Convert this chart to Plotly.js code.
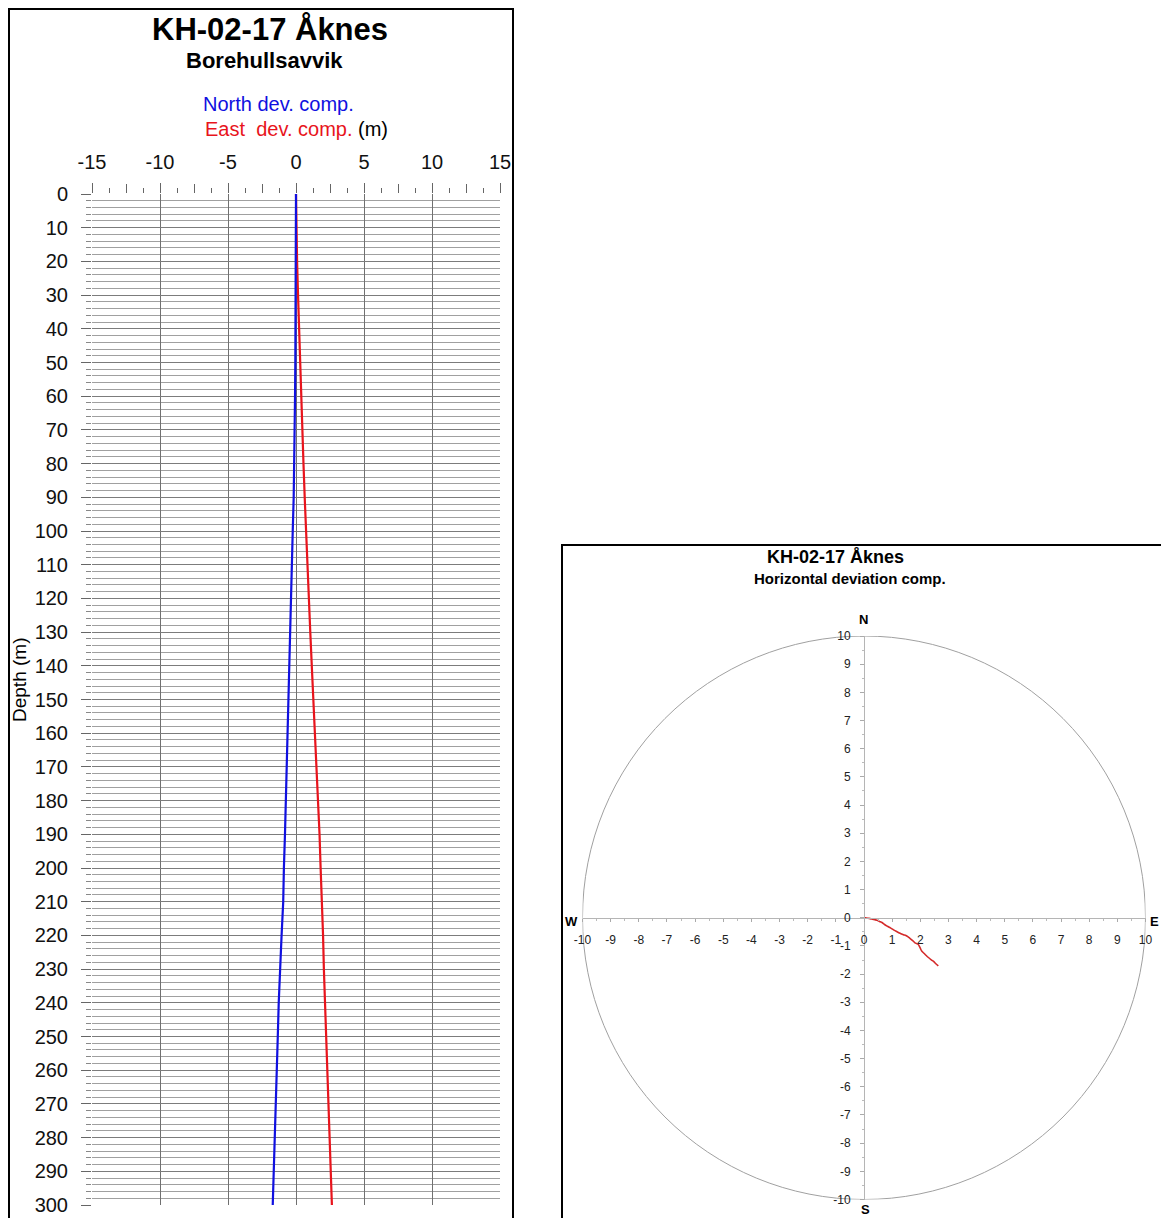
<!DOCTYPE html>
<html><head><meta charset="utf-8">
<script src="https://cdn.plot.ly/plotly-3.0.1.min.js"></script>
<style>html,body{margin:0;padding:0;background:#fff;overflow:hidden}</style>
</head><body><div id="chart" style="width:1161px;height:1218px"></div>
<script>
// ---- data ----
const depth    = [0,10,20,30,40,50,60,70,80,90,100,110,120,130,140,150,160,170,180,190,200,210,220,230,240,250,260,270,280,290,300];
const northDev = [0,0,-0.01,-0.02,-0.03,-0.05,-0.07,-0.09,-0.13,-0.17,-0.24,-0.30,-0.36,-0.43,-0.49,-0.55,-0.60,-0.65,-0.73,-0.81,-0.89,-0.94,-1.06,-1.18,-1.27,-1.34,-1.42,-1.50,-1.56,-1.64,-1.71];
const eastDev  = [0,0.02,0.08,0.15,0.22,0.30,0.38,0.46,0.55,0.64,0.73,0.83,0.94,1.05,1.16,1.28,1.40,1.52,1.63,1.73,1.81,1.92,1.99,2.05,2.14,2.21,2.30,2.40,2.48,2.56,2.64];
const depthTicks = [0,10,20,30,40,50,60,70,80,90,100,110,120,130,140,150,160,170,180,190,200,210,220,230,240,250,260,270,280,290,300];
const devTicks   = [-15,-10,-5,0,5,10,15];
const planTicks  = [-10,-9,-8,-7,-6,-5,-4,-3,-2,-1,0,1,2,3,4,5,6,7,8,9,10];

// ---- geometry helpers (pixels -> paper) ----
const W = 1161, H = 1218;
const fx = x => x / W;
const fy = y => 1 - y / H;
const FONT = 'Arial, "Liberation Sans", sans-serif';
const lbl = arr => arr.map(v => String(v));   // plain hyphen-minus labels

const traces = [
  {x: eastDev,  y: depth, xaxis: 'x', yaxis: 'y', mode: 'lines', line: {color: '#e8141c', width: 2.2}, hoverinfo: 'skip'},
  {x: northDev, y: depth, xaxis: 'x', yaxis: 'y', mode: 'lines', line: {color: '#1010e0', width: 2.2}, hoverinfo: 'skip'},
  {x: [], y: [], xaxis: 'x3', yaxis: 'y', mode: 'lines', hoverinfo: 'skip'},
  {x: eastDev, y: northDev, xaxis: 'x2', yaxis: 'y2', mode: 'lines', line: {color: '#d42a2a', width: 1.6, shape: 'spline'}, hoverinfo: 'skip'}
];

function ann(text, x, y, size, opts) {
  return Object.assign({text: text, x: fx(x), y: fy(y), xref: 'paper', yref: 'paper',
    xanchor: 'center', yanchor: 'middle', showarrow: false,
    font: {family: FONT, size: size, color: '#000'}}, opts || {});
}

const layout = {
  width: W, height: H,
  margin: {l: 0, r: 0, t: 0, b: 0},
  paper_bgcolor: '#fff', plot_bgcolor: '#fff',
  showlegend: false,
  font: {family: FONT, color: '#000'},
  xaxis: {
    domain: [fx(92), fx(500)], range: [-15, 15], side: 'top', anchor: 'y',
    tickvals: devTicks, ticktext: lbl(devTicks), ticks: 'outside', ticklen: 10, tickcolor: '#666', tickwidth: 1,
    tickfont: {size: 20, family: FONT, color: '#111'}, ticklabelstandoff: 6, ticklabeloverflow: 'allow',
    showgrid: true, gridcolor: '#707070', gridwidth: 1, zeroline: false, showline: false,
    minor: {dtick: 1.25, ticks: 'outside', ticklen: 5, tickcolor: '#666', showgrid: false},
    fixedrange: true
  },
  xaxis3: {
    overlaying: 'x', anchor: 'y', side: 'top', range: [-15, 15], dtick: 2.5,
    ticks: 'outside', ticklen: 9, tickcolor: '#666', showticklabels: false,
    showgrid: false, zeroline: false, showline: false, fixedrange: true
  },
  yaxis: {
    domain: [fy(1205), fy(194)], range: [300, 0], anchor: 'x',
    tickvals: depthTicks, ticktext: lbl(depthTicks), ticks: 'outside', ticklen: 10, tickcolor: '#666',
    tickfont: {size: 20, family: FONT, color: '#111'}, ticklabelstandoff: 9, ticklabeloverflow: 'allow',
    showgrid: true, gridcolor: '#7c7c7c', gridwidth: 1, zeroline: false, showline: false,
    minor: {dtick: 2, ticks: 'outside', ticklen: 5, tickcolor: '#888', showgrid: true, gridcolor: '#a0a0a0', gridwidth: 1},
    fixedrange: true
  },
  xaxis2: {
    domain: [fx(582.5), fx(1145.5)], range: [-10, 10], anchor: 'free', position: fy(918),
    tickvals: planTicks, ticktext: lbl(planTicks), ticks: 'outside', ticklen: 3, tickcolor: '#aaa',
    tickfont: {size: 12, family: FONT, color: '#222'}, ticklabelstandoff: 8,
    showgrid: false, zeroline: false, showline: true, linecolor: '#b5b5b5', linewidth: 1,
    minor: {dtick: 0.5, ticks: 'outside', ticklen: 2, tickcolor: '#bbb'},
    fixedrange: true
  },
  yaxis2: {
    domain: [fy(1199.5), fy(636)], range: [-10, 10], anchor: 'free', position: fx(864),
    tickvals: planTicks, ticktext: lbl(planTicks), ticks: 'outside', ticklen: 4, tickcolor: '#aaa',
    tickfont: {size: 12, family: FONT, color: '#222'}, ticklabelstandoff: 7,
    showgrid: false, zeroline: false, showline: true, linecolor: '#b5b5b5', linewidth: 1,
    minor: {dtick: 0.5, ticks: 'outside', ticklen: 2, tickcolor: '#bbb'},
    fixedrange: true
  },
  shapes: [
    {type: 'rect', xref: 'paper', yref: 'paper', x0: fx(9), x1: fx(513), y0: fy(1240), y1: fy(9),
     line: {color: '#000', width: 2}, layer: 'above'},
    {type: 'rect', xref: 'paper', yref: 'paper', x0: fx(562), x1: fx(1180), y0: fy(1240), y1: fy(545),
     line: {color: '#000', width: 2}, layer: 'above'},
    {type: 'circle', xref: 'x2', yref: 'y2', x0: -10, x1: 10, y0: -10, y1: 10,
     line: {color: '#a0a0a0', width: 1}, layer: 'below'}
  ],
  annotations: [
    ann('KH-02-17 Åknes', 270, 29, 31, {font: {family: FONT, size: 31, color: '#000', weight: 'bold'}}),
    ann('Borehullsavvik', 264, 60, 22, {font: {family: FONT, size: 22, color: '#000', weight: 'bold'}}),
    ann('North dev. comp.', 278, 104, 20, {font: {family: FONT, size: 20, color: '#1010e0'}}),
    ann('East\u00a0 dev. comp. <span style="color:#000">(m)</span>', 296, 129, 20, {font: {family: FONT, size: 20, color: '#e8141c'}}),
    ann('Depth (m)', 19, 680, 19, {textangle: -90}),
    ann('KH-02-17 Åknes', 835, 557, 18, {font: {family: FONT, size: 18, color: '#000', weight: 'bold'}}),
    ann('Horizontal deviation comp.', 850, 578, 15, {font: {family: FONT, size: 15, color: '#000', weight: 'bold'}}),
    ann('N', 863, 619, 13, {font: {family: FONT, size: 13, color: '#000', weight: 'bold'}}),
    ann('S', 865, 1209, 13, {font: {family: FONT, size: 13, color: '#000', weight: 'bold'}}),
    ann('W', 571, 921, 13, {font: {family: FONT, size: 13, color: '#000', weight: 'bold'}}),
    ann('E', 1154, 921, 13, {font: {family: FONT, size: 13, color: '#000', weight: 'bold'}})
  ]
};

Plotly.newPlot('chart', traces, layout, {staticPlot: true, displayModeBar: false});
</script>
</body></html>
